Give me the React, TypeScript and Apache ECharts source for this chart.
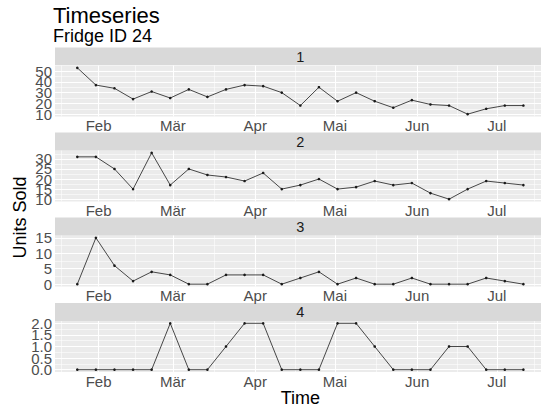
import React, { useEffect, useRef } from "react";
import * as echarts from "echarts";

// Weekly sales of fridge 24, one facet per product group
const weekDates = [
  "2017-01-24", "2017-01-31", "2017-02-07", "2017-02-14", "2017-02-21",
  "2017-02-28", "2017-03-07", "2017-03-14", "2017-03-21", "2017-03-28",
  "2017-04-04", "2017-04-11", "2017-04-18", "2017-04-25", "2017-05-02",
  "2017-05-09", "2017-05-16", "2017-05-23", "2017-05-30", "2017-06-06",
  "2017-06-13", "2017-06-20", "2017-06-27", "2017-07-04", "2017-07-11",
];

const panelIds = ["1", "2", "3", "4"];

const unitsGroup1 = [53, 37, 34, 24, 31, 25, 33, 26, 33, 37, 36, 30, 18, 35, 22, 30, 22, 16, 23, 19, 18, 10, 15, 18, 18];
const unitsGroup2 = [31, 31, 25, 15, 33, 17, 25, 22, 21, 19, 23, 15, 17, 20, 15, 16, 19, 17, 18, 13, 10, 15, 19, 18, 17];
const unitsGroup3 = [0, 15, 6, 1, 4, 3, 0, 0, 3, 3, 3, 0, 2, 4, 0, 2, 0, 0, 2, 0, 0, 0, 2, 1, 0];
const unitsGroup4 = [0, 0, 0, 0, 0, 2, 0, 0, 1, 2, 2, 0, 0, 0, 2, 2, 1, 0, 0, 0, 1, 1, 0, 0, 0];

const yTicks1 = [10, 20, 30, 40, 50];
const yTicks2 = [10, 15, 20, 25, 30];
const yTicks3 = [0, 5, 10, 15];
const yTicks4 = [0, 0.5, 1, 1.5, 2];

const monthStarts = ["2017-02-01", "2017-03-01", "2017-04-01", "2017-05-01", "2017-06-01", "2017-07-01"];
const monthLabels = ["Feb", "Mär", "Apr", "Mai", "Jun", "Jul"];

const panelValues = [unitsGroup1, unitsGroup2, unitsGroup3, unitsGroup4];
const panelTicks = [yTicks1, yTicks2, yTicks3, yTicks4];
const panelDecimals = [0, 0, 0, 1];

// Layout
const FONT = '"Liberation Sans", Arial, Helvetica, sans-serif';
const TICK_FONT = 15;
const PLOT_LEFT = 55;
const PLOT_WIDTH = 490.7;
const PLOT_TOPS = [65.5, 150.5, 235.5, 321];
const PLOT_HEIGHT = 51;
const STRIP_HEIGHT = 18;

const toTs = (s: string) => {
  const [y, m, d] = s.split("-").map(Number);
  return Date.UTC(y, m - 1, d);
};

// 5% padding on both sides, like a ggplot continuous scale
const expand = (lo: number, hi: number) => {
  const pad = (hi - lo) * 0.05;
  return [lo - pad, hi + pad];
};

// Minor breaks halfway between majors, extended one step past each end
const minorBreaks = (b: number[], lo: number, hi: number) => {
  const bd = b[1] - b[0];
  const ext = [...b];
  if (lo < b[0]) ext.unshift(b[0] - bd);
  if (hi > b[b.length - 1]) ext.push(b[b.length - 1] + bd);
  const out: number[] = [];
  for (let i = 0; i < ext.length - 1; i++) out.push((ext[i] + ext[i + 1]) / 2);
  return out.filter((v) => v >= lo && v <= hi);
};

function buildOption() {
  const xs = weekDates.map(toTs);
  const [xMin, xMax] = expand(xs[0], xs[xs.length - 1]);
  const monthTs = monthStarts.map(toTs);
  const xMinor = minorBreaks(monthTs, xMin, xMax);

  const monthName = (v: number) => {
    let best = 0;
    monthTs.forEach((t, k) => {
      if (Math.abs(t - v) < Math.abs(monthTs[best] - v)) best = k;
    });
    return monthLabels[best];
  };

  const grids: any[] = [];
  const xAxes: any[] = [];
  const yAxes: any[] = [];
  const series: any[] = [];
  const graphics: any[] = [];

  panelValues.forEach((vals, i) => {
    const top = PLOT_TOPS[i];
    const [yMin, yMax] = expand(Math.min(...vals), Math.max(...vals));
    const ticks = panelTicks[i];
    const yMinor = minorBreaks(ticks, yMin, yMax);

    grids.push({
      left: PLOT_LEFT,
      top,
      width: PLOT_WIDTH,
      height: PLOT_HEIGHT,
      show: true,
      backgroundColor: "#EBEBEB",
      borderWidth: 0,
      containLabel: false,
      outerBoundsMode: "none",
    });

    xAxes.push({
      type: "value",
      gridIndex: i,
      min: xMin,
      max: xMax,
      axisLine: { show: false },
      axisTick: { show: false },
      splitLine: { show: false },
      axisLabel: {
        customValues: monthTs,
        formatter: (v: number) => monthName(v),
        showMinLabel: true,
        showMaxLabel: true,
        hideOverlap: false,
        margin: 1.5,
        fontSize: TICK_FONT,
        color: "#4D4D4D",
        fontFamily: FONT,
      },
    });

    // The tick labels crowd each other, so they are split over two
    // coincident axes (alternate ticks) to keep every label on screen.
    const labelSets = [
      ticks.filter((_, k) => k % 2 === 0),
      ticks.filter((_, k) => k % 2 === 1),
    ];
    labelSets.forEach((set) => {
      yAxes.push({
        type: "value",
        gridIndex: i,
        position: "left",
        offset: 0,
        min: yMin,
        max: yMax,
        axisLine: { show: false },
        axisTick: { show: false },
        splitLine: { show: false },
        axisLabel: {
          customValues: set,
          formatter: (v: number) => Number(v).toFixed(panelDecimals[i]),
          showMinLabel: true,
          showMaxLabel: true,
          hideOverlap: false,
          margin: 3,
          fontSize: TICK_FONT,
          color: "#4D4D4D",
          fontFamily: FONT,
        },
      });
    });
    const yIndex = i * 2;

    // white panel grid, drawn beneath the data line
    const gridLines = [
      ...xMinor.map((v) => ({ xAxis: v, lineStyle: { width: 0.55 } })),
      ...yMinor.map((v) => ({ yAxis: v, lineStyle: { width: 0.55 } })),
      ...monthTs.map((v) => ({ xAxis: v, lineStyle: { width: 1.1 } })),
      ...ticks.map((v) => ({ yAxis: v, lineStyle: { width: 1.1 } })),
    ];
    series.push({
      type: "line",
      xAxisIndex: i,
      yAxisIndex: yIndex,
      data: [],
      z: 1,
      silent: true,
      markLine: {
        silent: true,
        symbol: "none",
        animation: false,
        label: { show: false },
        emphasis: { disabled: true },
        lineStyle: { color: "#FFFFFF", type: "solid", width: 1 },
        data: gridLines,
      },
    });

    series.push({
      type: "line",
      name: panelIds[i],
      xAxisIndex: i,
      yAxisIndex: yIndex,
      data: xs.map((x, k) => [x, vals[k]]),
      z: 5,
      silent: true,
      symbol: "circle",
      symbolSize: 2.6,
      showSymbol: true,
      itemStyle: { color: "#1A1A1A" },
      lineStyle: { color: "#333333", width: 0.9 },
    });

    // facet strip
    graphics.push({
      type: "rect",
      shape: { x: PLOT_LEFT, y: top - STRIP_HEIGHT, width: PLOT_WIDTH, height: STRIP_HEIGHT },
      style: { fill: "#D9D9D9" },
      silent: true,
    });
    graphics.push({
      type: "text",
      x: PLOT_LEFT + PLOT_WIDTH / 2,
      y: top - STRIP_HEIGHT / 2,
      style: {
        text: panelIds[i],
        textAlign: "center",
        textVerticalAlign: "middle",
        fontSize: 14.5,
        fontFamily: FONT,
        fill: "#1A1A1A",
      },
      silent: true,
    });
  });

  graphics.push(
    {
      type: "text",
      x: 53,
      y: 15,
      style: { text: "Timeseries", textAlign: "left", textVerticalAlign: "middle", fontSize: 22, fontFamily: FONT, fill: "#000" },
      silent: true,
    },
    {
      type: "text",
      x: 53,
      y: 36,
      style: { text: "Fridge ID 24", textAlign: "left", textVerticalAlign: "middle", fontSize: 18, fontFamily: FONT, fill: "#000" },
      silent: true,
    },
    {
      type: "text",
      x: 20,
      y: 217.5,
      rotation: Math.PI / 2,
      style: { text: "Units Sold", textAlign: "center", textVerticalAlign: "middle", fontSize: 18, fontFamily: FONT, fill: "#000" },
      silent: true,
    },
    {
      type: "text",
      x: PLOT_LEFT + PLOT_WIDTH / 2,
      y: 397.5,
      style: { text: "Time", textAlign: "center", textVerticalAlign: "middle", fontSize: 18, fontFamily: FONT, fill: "#000" },
      silent: true,
    }
  );

  return {
    animation: false,
    backgroundColor: "#FFFFFF",
    grid: grids,
    xAxis: xAxes,
    yAxis: yAxes,
    series,
    graphic: graphics,
  };
}

export default function App() {
  const ref = useRef<HTMLDivElement>(null);

  useEffect(() => {
    if (!ref.current) return;
    const chart = echarts.init(ref.current, undefined, { renderer: "svg" });
    chart.setOption(buildOption() as any);
    return () => chart.dispose();
  }, []);

  return (
    <div
      ref={ref}
      style={{ position: "fixed", left: 0, top: 0, width: 541, height: 408, overflow: "hidden" }}
    />
  );
}
